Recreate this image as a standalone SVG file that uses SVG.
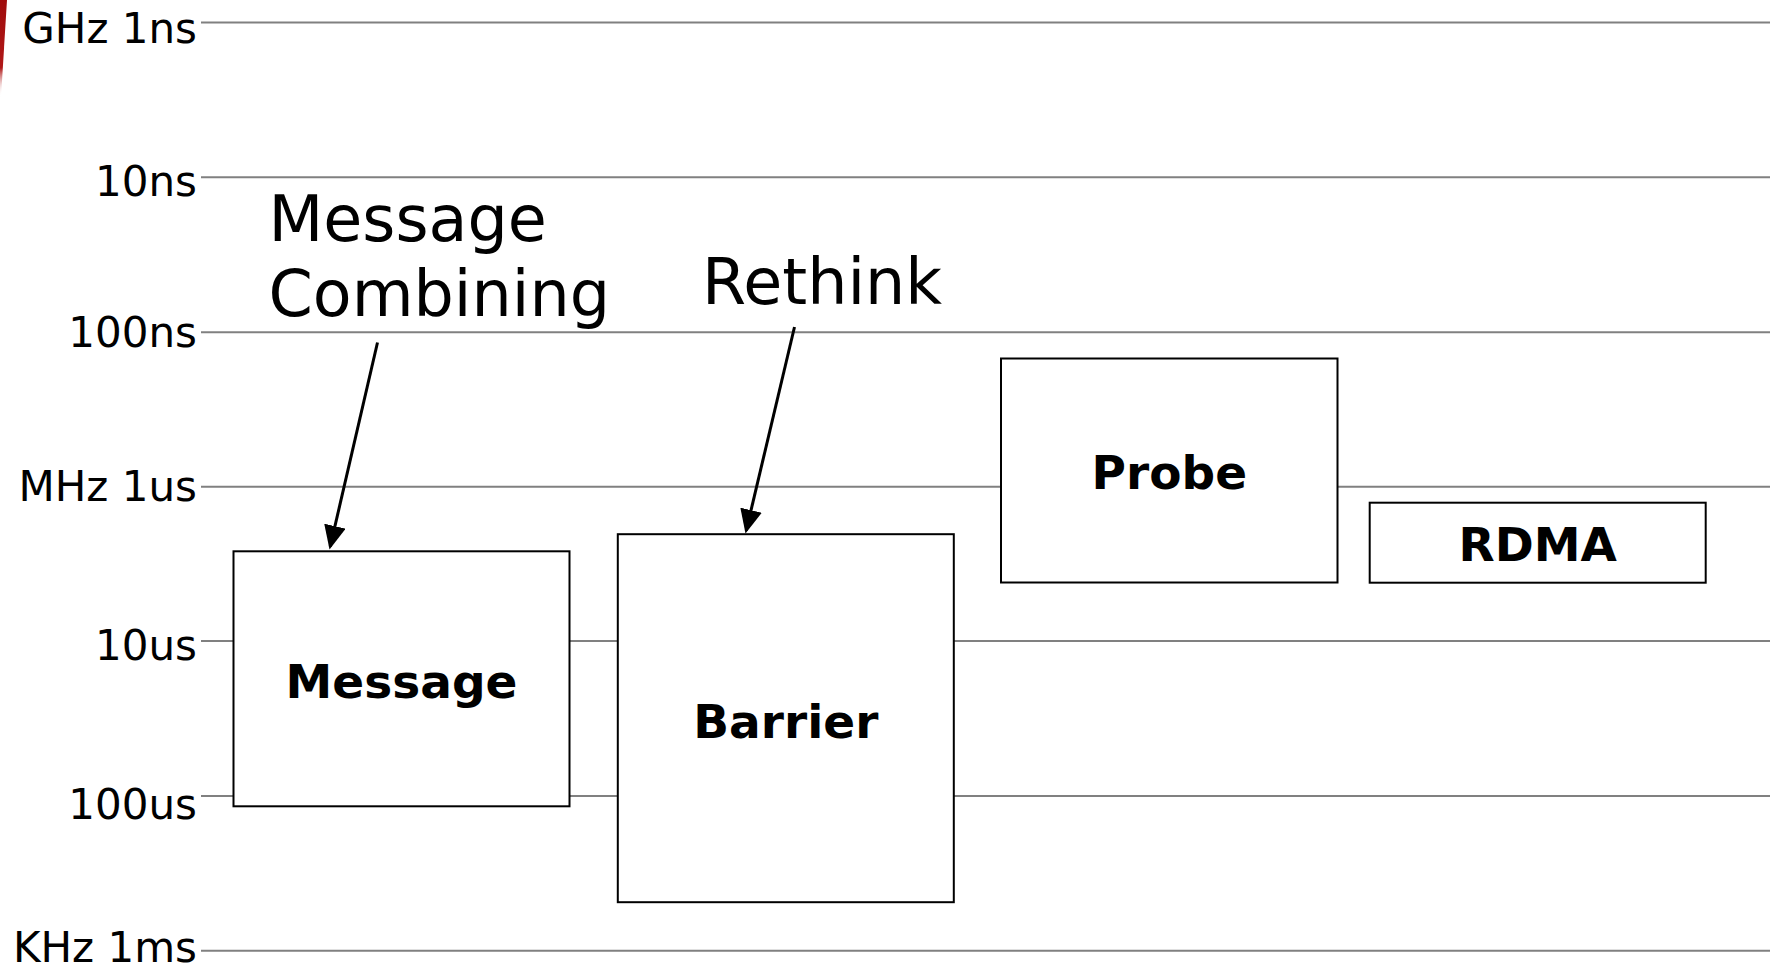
<svg xmlns="http://www.w3.org/2000/svg" width="1775" height="968" viewBox="0 0 1775 968">
<style>
.grid{stroke:#808080;stroke-width:2;fill:none}
.lbl{font-family:"DejaVu Sans",Verdana,sans-serif;font-size:42px;fill:#000;text-anchor:end}
.box{fill:#fff;stroke:#000;stroke-width:2}
.name{font-family:"DejaVu Sans",Verdana,sans-serif;font-size:47px;font-weight:bold;fill:#000;text-anchor:middle}
.ann{font-family:"DejaVu Sans",Verdana,sans-serif;font-size:63.5px;fill:#000}
.arrow{stroke:#000;stroke-width:3;fill:none;marker-end:url(#head)}
</style>
<defs>
<linearGradient id="red" x1="0" y1="0" x2="0" y2="1">
<stop offset="0" stop-color="#a00c0c"/>
<stop offset="0.7" stop-color="#b01818"/>
<stop offset="1" stop-color="#ffffff" stop-opacity="0"/>
</linearGradient>
<marker id="head" viewBox="0 0 24 22" refX="21" refY="11" markerWidth="24" markerHeight="22" markerUnits="userSpaceOnUse" orient="auto">
<path d="M0,0 L24,11 L0,22 z" fill="#000"/>
</marker>
</defs>
<rect width="1775" height="968" fill="#fff"/>
<polygon points="0,0 7,0 1,97 0,97" fill="url(#red)"/>
<g id="scale">
<line class="grid" x1="201" y1="22.5" x2="1770" y2="22.5"/>
<line class="grid" x1="201" y1="177.3" x2="1770" y2="177.3"/>
<line class="grid" x1="201" y1="332.3" x2="1770" y2="332.3"/>
<line class="grid" x1="201" y1="486.7" x2="1770" y2="486.7"/>
<line class="grid" x1="201" y1="641" x2="1770" y2="641"/>
<line class="grid" x1="201" y1="796" x2="1770" y2="796"/>
<line class="grid" x1="201" y1="950.7" x2="1770" y2="950.7"/>
<text class="lbl" x="197" y="42.7">GHz 1ns</text>
<text class="lbl" x="197" y="196">10ns</text>
<text class="lbl" x="197" y="346.7">100ns</text>
<text class="lbl" x="197" y="500.7">MHz 1us</text>
<text class="lbl" x="197" y="660">10us</text>
<text class="lbl" x="197" y="819.3">100us</text>
<text class="lbl" x="197" y="962">KHz 1ms</text>
</g>
<g id="message">
<rect class="box" x="233.5" y="551.3" width="336" height="255"/>
<text class="name" x="401.5" y="697.7">Message</text>
</g>
<g id="barrier">
<rect class="box" x="617.8" y="534.2" width="336" height="368"/>
<text class="name" x="785.8" y="738.3">Barrier</text>
</g>
<g id="probe">
<rect class="box" x="1001" y="358.5" width="336.5" height="224"/>
<text class="name" x="1169.3" y="489">Probe</text>
</g>
<g id="rdma">
<rect class="box" x="1369.7" y="502.7" width="336" height="80"/>
<text class="name" x="1537.7" y="561">RDMA</text>
</g>
<g id="annotations">
<text class="ann" x="268.5" y="240.7">Message</text>
<text class="ann" x="268.5" y="316">Combining</text>
<text class="ann" x="702" y="304">Rethink</text>
</g>
<g id="connectors">
<path class="arrow" d="M377.5,342.5 L330.2,546.6"/>
<path class="arrow" d="M794.5,327 L746.2,530.6"/>
</g>
</svg>
